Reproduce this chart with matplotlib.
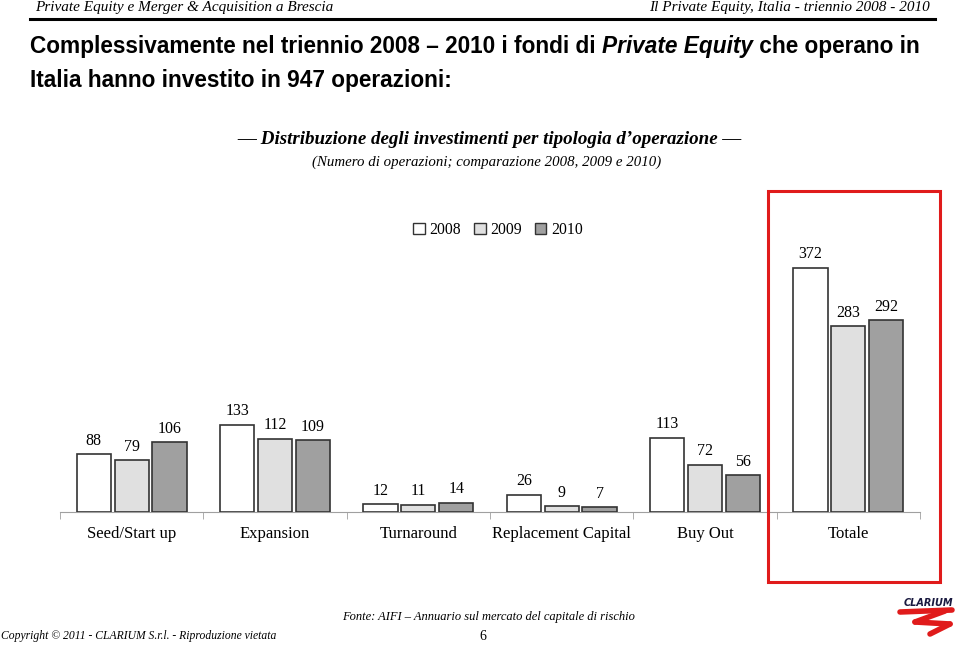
import matplotlib
matplotlib.use("Agg")
import matplotlib.pyplot as plt
from matplotlib.patches import Patch, Rectangle
from matplotlib.lines import Line2D
import numpy as np

categories = ["Seed/Start up", "Expansion", "Turnaround", "Replacement Capital", "Buy Out", "Totale"]
years = ["2008", "2009", "2010"]
v2008 = [88, 133, 12, 26, 113, 372]
v2009 = [79, 112, 11, 9, 72, 283]
v2010 = [106, 109, 14, 7, 56, 292]
colors = ["#ffffff", "#e0e0e0", "#a0a0a0"]

W, H = 959, 645
SERIF = ["Liberation Serif", "DejaVu Serif"]
SANS = ["Liberation Sans Narrow", "Liberation Sans", "DejaVu Sans"]


def fx(px):
    return px / W


def fy(py):
    return 1 - py / H


fig = plt.figure(figsize=(W / 100, H / 100), dpi=100)
fig.patch.set_facecolor("white")

# chart
ax = fig.add_axes([fx(60), fy(512), fx(920) - fx(60), 400 * 0.656 / H])
x = np.arange(len(categories))
bw = 0.238
step = 0.264
for i, (vals, col) in enumerate(zip([v2008, v2009, v2010], colors)):
    bars = ax.bar(x + (i - 1) * step, vals, bw, color=col, edgecolor="#333333", lw=1.2, zorder=3)
    ax.bar_label(bars, padding=4, fontsize=11.5, family=SERIF)

ax.set_xlim(-0.5, len(categories) - 0.5)
ax.set_ylim(0, 400)
ax.set_yticks([])
for s in ["top", "left", "right"]:
    ax.spines[s].set_visible(False)
ax.spines["bottom"].set_color("#a0a0a0")
ax.set_xticks(x)
ax.set_xticklabels(categories, family=SERIF, fontsize=12)
ax.tick_params(axis="x", which="major", length=0, pad=10)
ax.set_xticks(np.arange(-0.5, len(categories)), minor=True)
ax.tick_params(axis="x", which="minor", length=5, color="#a0a0a0")
ax.patch.set_alpha(0)

# legend
handles = [Patch(facecolor=c, edgecolor="#333333", lw=1.0, label=y) for c, y in zip(colors, years)]
fig.legend(handles=handles, loc="center", bbox_to_anchor=(fx(498), fy(230)), ncol=3, frameon=False,
           handlelength=0.75, handleheight=0.75, handletextpad=0.3, columnspacing=0.8,
           prop={"family": SERIF, "size": 11.3})

# red highlight box
fig.patches.append(Rectangle((fx(768), fy(582)), fx(940) - fx(768), (582 - 191) / H,
                             transform=fig.transFigure, fill=False, edgecolor="#e01b1b", lw=2.2))

# header
fig.text(fx(35), fy(8), "Private Equity e Merger & Acquisition a Brescia", family=SERIF, style="italic",
         fontsize=11, va="center", ha="left")
fig.text(fx(930), fy(8), "Il Private Equity, Italia - triennio 2008 - 2010", family=SERIF, style="italic",
         fontsize=11, va="center", ha="right")
fig.add_artist(Line2D([fx(30), fx(935)], [fy(19), fy(19)], color="black", lw=2.2))

# title with mixed styles
fig.canvas.draw()
renderer = fig.canvas.get_renderer()


def rich_line(pieces, x0, y0, size):
    xp = x0
    for txt, st in pieces:
        t = fig.text(fx(xp), fy(y0), txt, family=SANS, weight="bold", style=st, fontsize=size,
                     va="center", ha="left")
        bb = t.get_window_extent(renderer)
        xp += bb.width


rich_line([("Complessivamente nel triennio 2008 \u2013 2010 i fondi di ", "normal"),
           ("Private Equity", "italic"), (" che operano in", "normal")], 30, 47, 16.3)
rich_line([("Italia hanno investito in 947 operazioni:", "normal")], 30, 80, 16.3)

fig.text(fx(489), fy(140), "\u2014 Distribuzione degli investimenti per tipologia d\u2019operazione \u2014",
         family=SERIF, style="italic", weight="bold", fontsize=13.7, ha="center", va="center")
fig.text(fx(487), fy(162), "(Numero di operazioni; comparazione 2008, 2009 e 2010)",
         family=SERIF, style="italic", fontsize=10.7, ha="center", va="center")

# footer
fig.text(fx(488), fy(617), "Fonte: AIFI \u2013 Annuario sul mercato del capitale di rischio",
         family=SERIF, style="italic", fontsize=9, ha="center", va="center")
fig.text(fx(1), fy(636), "Copyright \u00a9 2011 - CLARIUM S.r.l. - Riproduzione vietata",
         family=SERIF, style="italic", fontsize=8.4, ha="left", va="center")
fig.text(fx(483), fy(636), "6", family=SERIF, fontsize=10, ha="center", va="center")

# logo
fig.text(fx(928), fy(603), "CLARIUM", family=["DejaVu Sans"], weight="bold", style="italic",
         fontsize=7, color="#1a1a40", ha="center", va="center")
for (x0, y0, x1, y1) in [(900, 612, 952, 610), (945, 611, 915, 622), (915, 622, 950, 624), (950, 624, 930, 634)]:
    fig.add_artist(Line2D([fx(x0), fx(x1)], [fy(y0), fy(y1)], color="#e01b1b", lw=4, solid_capstyle="round"))

fig.savefig("out.png", dpi=100)
